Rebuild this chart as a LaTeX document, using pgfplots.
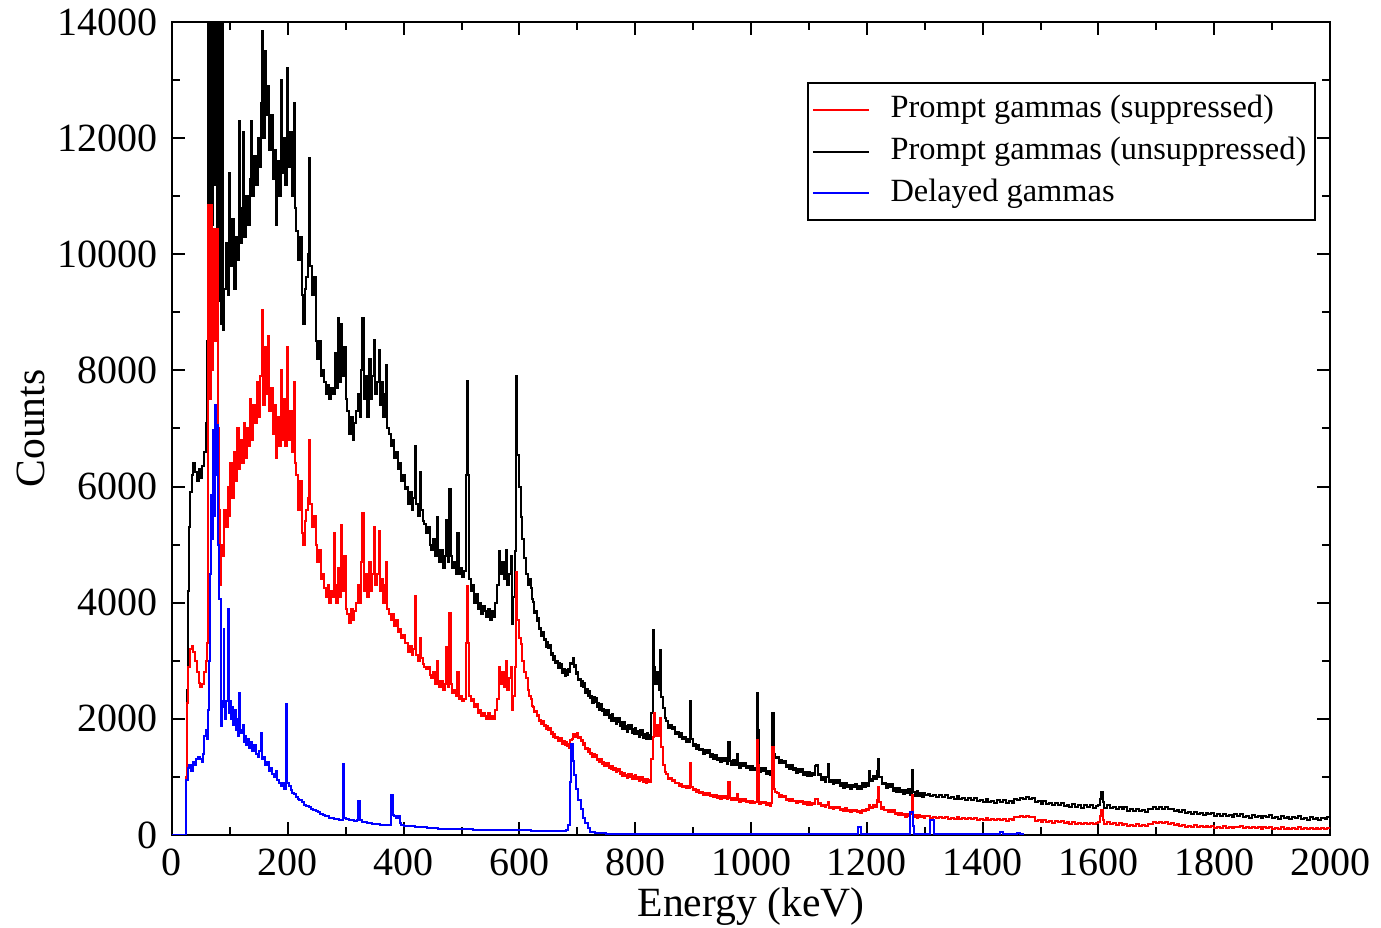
\documentclass[border=0pt]{standalone}
\usepackage{fontspec}
\setmainfont{Liberation Serif}
\usepackage{pgfplots}
\pgfplotsset{compat=1.18}
\begin{document}
\begin{tikzpicture}
\useasboundingbox (-43pt,-23.25pt) rectangle (302.25pt,208.75pt);
\begin{axis}[
  scale only axis,
  width=289.5pt, height=203.25pt,
  xmin=0, xmax=2000, ymin=0, ymax=14000,
  xtick={0,200,...,2000}, ytick={0,2000,...,14000},
  minor x tick num=1, minor y tick num=1,
  tick align=inside,
  major tick length=3.3pt, minor tick length=2pt,
  every tick/.style={black, line width=0.5pt},
  axis line style={line width=0.5pt},
  scaled ticks=false,
  /pgf/number format/.cd, 1000 sep={}, assume math mode=true, /pgfplots/.cd,
  tick label style={font=\fontsize{10}{12}\selectfont},
  label style={font=\fontsize{10.4}{12}\selectfont},
  xlabel={Energy (keV)}, ylabel={Counts},
  xlabel style={at={(axis description cs:0.5,0)}, anchor=base, yshift=-20.5pt},
  ylabel style={at={(axis description cs:-0.1097,0.5)}, anchor=base},
  legend style={at={(axis description cs:0.988,0.926)}, anchor=north east,
    draw=black, line width=0.5pt, font=\fontsize{8.1}{10}\selectfont,
    cells={anchor=west}, inner xsep=1pt, inner ysep=1.5pt, row sep=0pt,
    nodes={inner sep=1.2pt, text height=6pt, text depth=2pt},
    /tikz/every odd column/.append style={column sep=4pt}},
  legend image code/.code={\path (0pt,0pt) -- (14pt,0pt); \draw[#1, line width=0.5pt] (1.5pt,0pt) -- (13pt,0pt);},
  every axis plot/.append style={const plot mark left, line width=0.5pt},
]
\addlegendimage{red}
\addlegendentry{Prompt gammas (suppressed)}
\addlegendimage{black}
\addlegendentry{Prompt gammas (unsuppressed)}
\addlegendimage{blue}
\addlegendentry{Delayed gammas}
% ---------------- black: prompt unsuppressed
\addplot[black, forget plot] table {
x y
0 0
24 0
25 1000
26 2500
27 4200
29 5300
31 5900
34 6200
37 6400
40 6250
43 6100
46 6300
49 6150
52 6350
55 6600
58 7100
60 8500
62 10900
63 14500
65 9800
67 14500
69 10500
71 14500
73 11200
75 14500
77 10400
79 14500
81 9200
83 14500
85 8800
87 14500
88 8700
90 9400
93 10200
96 9300
99 11400
101 9800
104 10600
107 9400
110 10300
113 9900
116 12300
118 10200
121 10800
123 12100
125 10300
128 11000
131 10500
134 11300
137 12300
139 11000
142 11700
145 11200
148 12000
151 11500
154 12600
156 13850
158 12000
160 13500
162 12400
165 12900
168 11800
171 12400
174 11300
177 11800
179 10500
182 11600
185 11000
188 13000
190 11400
193 12000
196 11200
199 13200
201 11500
204 12100
207 11000
210 12600
212 10800
215 10400
218 9900
221 10300
224 9300
226 8800
229 9400
232 9600
235 10000
237 11650
239 9800
242 9300
245 9600
248 8500
251 8200
254 8500
257 7900
260 8000
263 7800
266 7600
269 7750
272 7500
275 7700
278 7600
281 8300
284 7700
287 8900
289 7800
292 8800
294 7900
297 8400
300 7500
303 7300
306 6900
309 7200
312 6800
315 7100
318 7300
321 7600
324 7200
327 8000
329 8900
331 7500
334 7900
337 7200
340 8200
343 7500
346 7900
349 8530
351 7600
354 7800
357 8350
359 7400
362 7800
365 7200
368 7600
370 8100
372 7000
375 6900
378 6700
381 6800
384 6500
387 6600
390 6300
393 6400
396 6100
399 6200
402 5950
405 6000
408 5700
411 5900
414 5600
417 5800
420 6700
422 5700
425 5500
428 6250
430 5600
433 5400
436 5350
439 5200
442 5300
445 5000
448 4900
451 5100
454 4800
457 5480
459 4900
462 4700
465 4900
468 4600
471 4800
474 5420
476 4700
479 5950
481 4800
484 4600
487 4700
490 4500
493 5200
495 4500
498 4600
501 4450
504 4550
507 6200
509 7820
511 6200
513 4400
516 4200
519 4300
522 4000
525 4150
528 3900
531 4000
534 3800
537 3950
540 3850
543 3750
546 3900
549 3700
552 3850
555 3750
558 4000
561 4300
564 4890
567 4500
570 4700
573 4400
576 4900
579 4300
582 4500
585 4800
587 3640
589 4100
592 4890
594 7910
596 6550
599 6000
602 5480
605 5100
608 4770
611 4500
614 4300
617 4400
620 4260
622 4060
624 4020
626 3830
628 3850
630 3690
632 3730
634 3550
636 3570
638 3430
640 3490
642 3350
644 3370
646 3240
648 3320
650 3220
652 3270
654 3100
656 3140
658 3010
660 3090
662 2960
664 2990
666 2870
668 2960
670 2870
672 2940
674 2790
676 2850
678 2740
680 2840
682 2760
684 2850
686 2800
688 2960
690 2940
692 3050
694 2900
696 2930
698 2770
700 2810
702 2670
704 2690
706 2570
708 2650
710 2550
712 2610
714 2450
716 2510
718 2390
720 2480
722 2360
724 2390
726 2280
728 2370
730 2290
732 2360
734 2210
736 2270
738 2160
740 2260
742 2140
744 2170
746 2060
748 2150
750 2070
752 2150
754 2010
756 2070
758 1970
760 2080
762 1970
764 2010
766 1910
768 2010
770 1940
772 2020
774 1870
776 1940
778 1830
780 1940
782 1830
784 1880
786 1780
788 1890
790 1820
792 1900
794 1760
796 1830
798 1735
800 1850
802 1740
804 1790
806 1690
808 1800
810 1730
812 1810
814 1670
816 1745
818 1650
820 1760
822 1660
824 1730
826 1650
828 2100
830 3530
832 2900
835 2600
838 2800
841 2500
843 3190
845 2380
848 2195
851 2020
854 1965
857 1850
860 1895
863 1825
866 1855
869 1745
872 1770
875 1685
878 1750
881 1655
884 1680
887 1595
890 1655
892 1605
894 2300
896 1645
899 1535
902 1570
905 1485
908 1555
911 1460
914 1485
917 1400
920 1465
923 1410
926 1455
929 1350
932 1390
935 1310
938 1385
941 1295
944 1330
947 1255
950 1330
953 1280
956 1330
959 1230
961 1600
963 1280
966 1205
969 1285
972 1200
975 1400
977 1235
980 1160
983 1240
986 1190
989 1245
992 1145
995 1190
998 1115
1001 1195
1004 1115
1007 1150
1010 2440
1012 1800
1014 1080
1017 1155
1020 1105
1023 1155
1026 1055
1029 1100
1032 1025
1035 1105
1037 2100
1039 1400
1042 1320
1045 1335
1048 1240
1051 1295
1054 1235
1057 1275
1060 1165
1063 1210
1066 1130
1069 1205
1072 1115
1075 1145
1078 1065
1081 1135
1084 1085
1087 1135
1090 1040
1093 1085
1096 1010
1099 1090
1102 1010
1105 1065
1108 1030
1111 1185
1113 1200
1115 1035
1118 1055
1121 945
1124 990
1127 915
1130 995
1133 1230
1135 910
1138 945
1141 870
1144 940
1147 890
1150 940
1153 840
1156 890
1159 817
1162 900
1165 820
1168 857
1171 785
1174 865
1177 820
1180 875
1183 790
1186 850
1189 790
1192 890
1195 830
1198 895
1201 850
1203 1100
1205 965
1208 935
1211 1015
1214 965
1217 1100
1219 1300
1221 1005
1224 995
1227 880
1230 895
1233 810
1236 875
1239 820
1242 870
1245 765
1248 810
1251 735
1254 815
1257 732
1260 770
1263 698
1266 777
1269 730
1272 785
1275 690
1278 1125
1280 740
1283 670
1286 755
1289 675
1292 715
1295 647
1298 729
1301 685
1305 711
1310 666
1315 687
1320 647
1325 688
1330 658
1335 689
1340 634
1345 660
1350 620
1355 665
1360 619
1365 639
1370 598
1375 638
1380 607
1385 637
1390 581
1395 606
1400 565
1405 612
1410 569
1415 590
1420 552
1425 594
1430 566
1435 598
1440 545
1445 582
1450 555
1455 625
1460 605
1465 640
1470 615
1475 650
1480 615
1485 630
1490 560
1495 580
1500 535
1505 580
1510 535
1515 555
1520 515
1525 555
1530 525
1535 555
1540 500
1545 525
1550 485
1555 531
1560 487
1565 509
1570 470
1575 511
1580 483
1585 514
1590 460
1595 500
1600 520
1603 620
1605 745
1608 560
1610 470
1615 513
1620 465
1625 483
1630 441
1635 479
1640 447
1645 475
1650 415
1655 443
1660 407
1665 455
1670 413
1675 436
1680 400
1685 456
1690 443
1695 489
1700 450
1705 478
1710 440
1715 488
1720 445
1725 455
1730 405
1735 435
1740 395
1745 426
1750 372
1755 398
1760 358
1765 404
1770 360
1775 381
1780 342
1785 383
1790 353
1795 384
1800 330
1805 358
1810 321
1815 368
1820 326
1825 349
1830 312
1835 354
1840 327
1845 360
1850 308
1855 335
1860 298
1865 346
1870 304
1875 326
1880 289
1885 332
1890 305
1895 337
1900 285
1905 314
1910 277
1915 326
1920 284
1925 308
1930 271
1935 315
1940 288
1945 322
1950 270
1955 299
1960 262
1965 311
1970 269
1975 293
1980 256
1985 300
1988 298
1991 272
1995 306
2000 275
};
% ---------------- red: prompt suppressed
\addplot[red, forget plot] table {
x y
0 0
24 0
25 1000
26 2280
28 2900
31 3200
34 3260
37 3150
40 3000
43 2800
46 2620
49 2550
52 2600
55 2800
58 3000
60 3300
62 3830
63 10850
65 7500
67 10850
69 8000
71 9000
73 10440
75 8500
77 10440
79 7000
81 5600
83 4300
85 5000
87 4800
90 5600
93 5300
96 6000
99 5500
101 6400
104 5800
107 6600
110 6100
113 7000
116 6300
118 6800
121 6400
124 7100
126 6500
129 7000
132 6700
135 7500
137 6800
140 7400
143 7100
146 7800
149 7200
152 7900
155 9040
157 7400
160 8400
163 7600
166 8600
168 7300
171 7700
174 6900
177 7400
179 6500
182 7200
185 6700
188 8000
190 6800
193 7500
196 6700
199 8400
201 6800
204 7300
207 6600
210 7800
212 6400
215 6200
218 5600
221 6100
224 5200
226 4990
229 5400
232 5600
235 5800
237 6800
239 5700
242 5300
245 5500
248 5000
251 4700
254 4900
257 4400
260 4500
263 4250
266 4100
269 4300
272 4000
275 4200
278 4100
279 5200
281 4300
284 4000
287 4600
289 4100
292 5330
294 4200
297 4800
300 3900
303 3800
306 3650
309 3900
312 3700
315 3850
318 4000
321 4300
324 4000
327 4700
329 5540
331 4200
334 4500
337 4100
340 4700
343 4200
346 4500
349 5300
351 4300
354 4500
357 5240
359 4200
362 4400
365 4000
368 4300
370 4700
372 3900
375 3800
378 3700
381 3800
384 3600
387 3700
390 3500
393 3550
396 3400
399 3450
402 3300
405 3300
408 3150
411 3250
414 3100
417 3200
420 4120
422 3100
425 3000
428 3400
430 3050
433 2950
436 2900
439 2850
442 2900
445 2750
448 2700
451 2800
454 2600
457 3000
459 2650
462 2550
465 2650
468 2500
471 2600
474 3230
476 2550
479 3820
481 2600
484 2450
487 2500
490 2400
493 2800
495 2350
498 2400
501 2300
504 2350
507 3300
509 4295
511 3300
513 2400
516 2300
519 2350
522 2200
525 2250
528 2100
531 2150
534 2050
537 2100
540 2050
543 2000
546 2100
549 2000
552 2050
555 2000
558 2150
561 2350
564 2900
567 2600
570 2800
573 2550
576 3000
579 2500
582 2700
585 2900
587 2160
589 2400
592 2900
594 4530
596 3700
599 3400
602 3290
605 3000
608 2800
611 2700
614 2500
617 2400
620 2335
622 2225
624 2210
626 2110
628 2130
630 2045
632 2070
634 1970
636 1985
638 1910
640 1955
642 1875
644 1890
646 1820
648 1870
650 1815
652 1845
654 1745
656 1770
658 1695
660 1745
662 1670
664 1690
666 1625
668 1675
670 1625
672 1665
674 1575
676 1610
678 1545
680 1605
682 1535
684 1560
686 1500
688 1630
690 1645
692 1735
694 1680
696 1735
698 1685
700 1755
702 1675
704 1690
706 1610
708 1630
710 1555
712 1585
714 1480
716 1505
718 1430
720 1475
722 1395
724 1415
726 1345
728 1400
730 1345
732 1380
734 1290
736 1315
738 1250
740 1305
742 1230
744 1250
746 1185
748 1245
750 1195
752 1235
754 1155
756 1190
758 1135
760 1195
762 1125
764 1145
766 1085
768 1140
770 1095
772 1135
774 1045
776 1080
778 1015
780 1075
782 1010
784 1040
786 980
788 1045
790 1005
792 1050
794 970
796 1010
798 957
800 1025
802 960
804 990
806 930
808 995
810 955
812 1000
814 918
816 957
818 901
820 965
822 910
824 955
826 910
828 1300
830 1690
832 2095
835 1700
838 1900
841 1700
843 2010
845 1520
848 1205
851 1085
854 1058
857 972
860 978
863 937
866 950
869 887
872 900
875 850
878 885
881 833
884 848
887 802
890 838
892 812
894 1245
896 830
899 772
902 785
905 740
908 780
911 730
914 743
917 692
920 718
923 692
926 720
929 667
932 690
935 647
938 690
941 645
944 663
947 622
950 663
953 637
956 665
959 612
961 920
963 638
966 599
969 645
972 600
975 700
977 613
980 572
983 613
986 587
989 615
992 562
995 585
998 545
1001 590
1004 545
1007 565
1010 1640
1012 1200
1014 532
1017 573
1020 547
1023 575
1026 522
1029 547
1032 507
1035 553
1037 1520
1039 800
1042 745
1045 728
1048 662
1051 688
1054 647
1057 665
1060 602
1063 622
1066 580
1069 623
1072 577
1075 593
1078 550
1081 588
1084 562
1087 590
1090 537
1093 560
1096 520
1099 565
1102 520
1105 553
1108 532
1111 618
1113 620
1115 537
1118 555
1121 500
1124 522
1127 480
1130 520
1133 560
1135 465
1138 483
1141 442
1144 483
1147 457
1150 485
1153 432
1156 455
1159 417
1162 463
1165 417
1168 436
1171 394
1174 436
1177 409
1180 435
1183 390
1186 420
1189 383
1192 437
1195 405
1198 443
1201 422
1203 520
1205 488
1208 472
1211 515
1214 482
1217 600
1219 830
1221 560
1224 455
1227 480
1230 425
1233 438
1236 392
1239 430
1242 399
1245 422
1248 362
1251 382
1254 341
1257 385
1260 339
1263 356
1266 315
1269 354
1272 329
1275 358
1278 690
1280 312
1283 336
1286 297
1289 345
1292 303
1295 323
1298 284
1301 328
1305 323
1310 296
1315 310
1320 287
1325 312
1330 295
1335 314
1340 282
1345 298
1350 275
1355 303
1360 276
1365 290
1370 267
1375 292
1380 275
1385 294
1390 262
1395 278
1400 255
1405 284
1410 258
1415 272
1420 250
1425 276
1430 260
1435 279
1440 248
1445 276
1450 265
1455 315
1460 310
1465 331
1470 315
1475 332
1480 307
1485 303
1490 248
1495 256
1500 225
1505 252
1510 224
1515 237
1520 213
1525 237
1530 219
1535 237
1540 204
1545 219
1550 195
1555 223
1560 196
1565 210
1570 187
1575 212
1580 196
1585 215
1590 183
1595 211
1600 230
1603 330
1605 430
1608 260
1610 195
1615 220
1620 190
1625 201
1630 175
1635 198
1640 179
1645 196
1650 161
1655 179
1660 157
1665 187
1670 161
1675 177
1680 155
1685 196
1690 195
1695 230
1700 213
1705 226
1710 200
1715 225
1720 195
1725 199
1730 166
1735 182
1740 155
1745 174
1750 143
1755 159
1760 137
1765 165
1770 139
1775 153
1780 131
1785 156
1790 140
1795 159
1800 128
1805 145
1810 123
1815 152
1820 126
1825 141
1830 119
1835 145
1840 129
1845 149
1850 118
1855 135
1860 113
1865 142
1870 116
1875 131
1880 109
1885 135
1890 119
1895 139
1900 108
1905 125
1910 103
1915 132
1920 106
1925 121
1930 99
1935 125
1940 109
1945 130
1950 99
1955 117
1960 95
1965 125
1970 100
1975 116
1980 95
1985 122
1990 107
1995 128
2000 110
};
% ---------------- blue: delayed
\addplot[blue, forget plot] table {
x y
0 0
24 0
25 950
27 1150
30 1200
33 1100
36 1250
39 1200
42 1300
45 1350
48 1300
51 1250
54 1400
56 1700
58 1800
60 1650
62 2160
64 3000
65 3830
66 4500
67 5850
69 5100
71 6970
73 5500
74 7400
76 6200
78 7060
80 5000
82 4060
84 2500
85 1870
87 2300
89 3545
90 2200
92 2000
94 2300
96 3890
98 2100
100 2300
102 2000
104 2200
106 1900
108 2150
110 1800
112 2000
114 1700
116 2450
118 1800
120 1750
122 1900
124 1600
126 1700
128 1550
130 1650
133 1500
136 1600
139 1450
142 1550
145 1400
148 1350
151 1450
153 1760
155 1300
158 1350
161 1200
164 1250
167 1100
170 1150
173 1050
176 1000
179 1100
182 950
185 900
188 850
191 900
194 800
197 2250
199 900
202 850
205 780
208 720
211 700
214 650
217 620
220 600
224 560
228 520
232 500
236 480
240 450
244 430
248 410
252 390
256 370
260 350
264 330
268 320
272 300
276 290
280 280
284 270
288 260
292 250
295 1215
297 300
300 280
305 260
310 250
315 240
320 260
322 590
324 250
328 230
332 220
336 210
340 200
345 195
350 190
355 185
360 180
365 175
370 170
375 170
378 400
379 680
381 350
384 320
387 300
390 330
393 200
396 180
400 160
410 150
420 140
430 130
440 120
450 115
460 110
470 110
480 100
490 100
500 110
505 100
510 95
520 90
540 85
560 80
580 80
600 90
610 80
620 75
640 70
660 70
680 90
684 180
687 920
689 1570
692 1270
695 1040
698 800
702 600
706 445
710 300
714 207
718 120
722 60
730 30
750 20
800 15
900 10
1000 10
1100 10
1180 20
1185 140
1190 20
1272 20
1275 400
1279 150
1282 20
1308 20
1310 250
1316 20
1430 57
1435 10
1460 30
1465 10
1470 0
};
\end{axis}
\end{tikzpicture}
\end{document}
